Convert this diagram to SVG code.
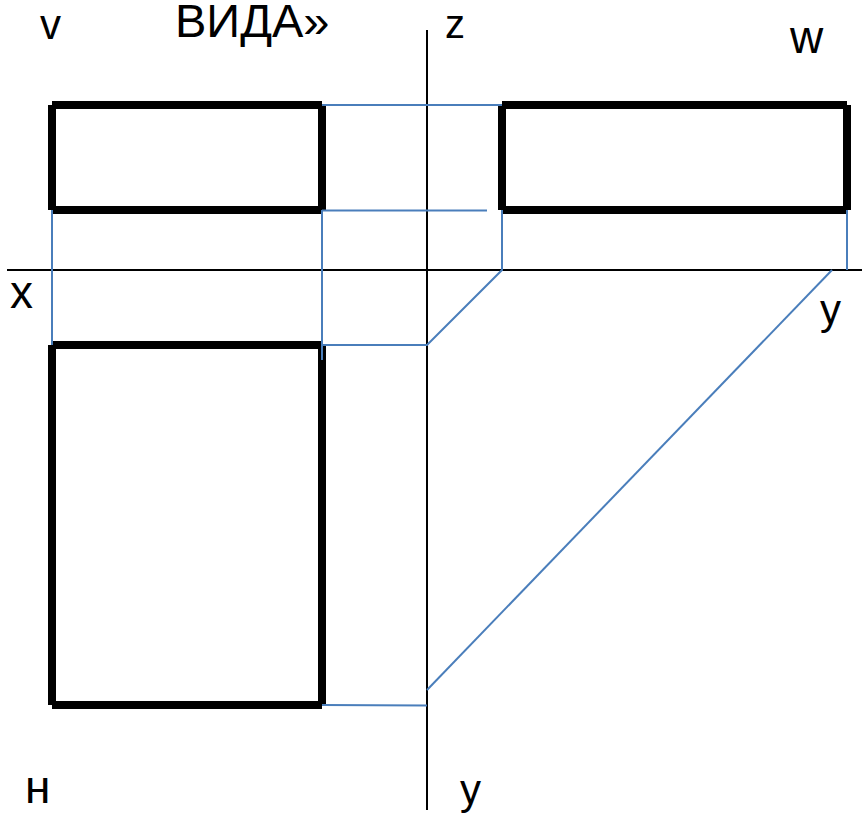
<svg xmlns="http://www.w3.org/2000/svg" width="865" height="815" viewBox="0 0 865 815">
<style>
.fig{fill:none;stroke:#000;stroke-width:8;stroke-linecap:butt}
.axis{fill:none;stroke:#000;stroke-width:2}
.proj{fill:none;stroke:#4a7ebb;stroke-width:2}
text{font-family:"Liberation Sans",Arial,sans-serif;fill:#000}
.s{font-size:40px}
.l{font-size:42px}
.m{font-size:46px}
.t{font-size:47px}
</style>
<rect width="865" height="815" fill="#fff"/>
<g id="view-front"><path class="fig" d="M52 105H322M322 105V210M322 210H52M52 210V105"/></g>
<g id="view-side"><path class="fig" d="M502 105H847M847 105V210M847 210H502M502 210V105"/></g>
<g id="view-top"><path class="fig" d="M52 345H322M322 345V705M322 705H52M52 705V345"/></g>
<g id="connectors">
<path class="axis" d="M427 30V810"/>
<path class="axis" d="M7 270H862"/>
<path class="proj" d="M322 105H502"/>
<path class="proj" d="M322 210.500H487"/>
<path class="proj" d="M52 210V345"/>
<path class="proj" d="M322 210V360"/>
<path class="proj" d="M322 345H427L502 270V210"/>
<path class="proj" d="M847 210V270"/>
<path class="proj" d="M832 270L427 690"/>
<path class="proj" d="M322 705L427 705.500"/>
</g>
<g id="labels">
<text class="t" x="175" y="36.500">ВИДА»</text>
<text class="l" x="40" y="39">v</text>
<text class="s" x="445" y="38">z</text>
<text class="m" x="790" y="53">w</text>
<text class="m" x="10" y="308">x</text>
<text class="l" x="820" y="324">y</text>
<text class="m" x="25" y="803">н</text>
<text class="l" x="460" y="804">y</text>
</g>
</svg>
